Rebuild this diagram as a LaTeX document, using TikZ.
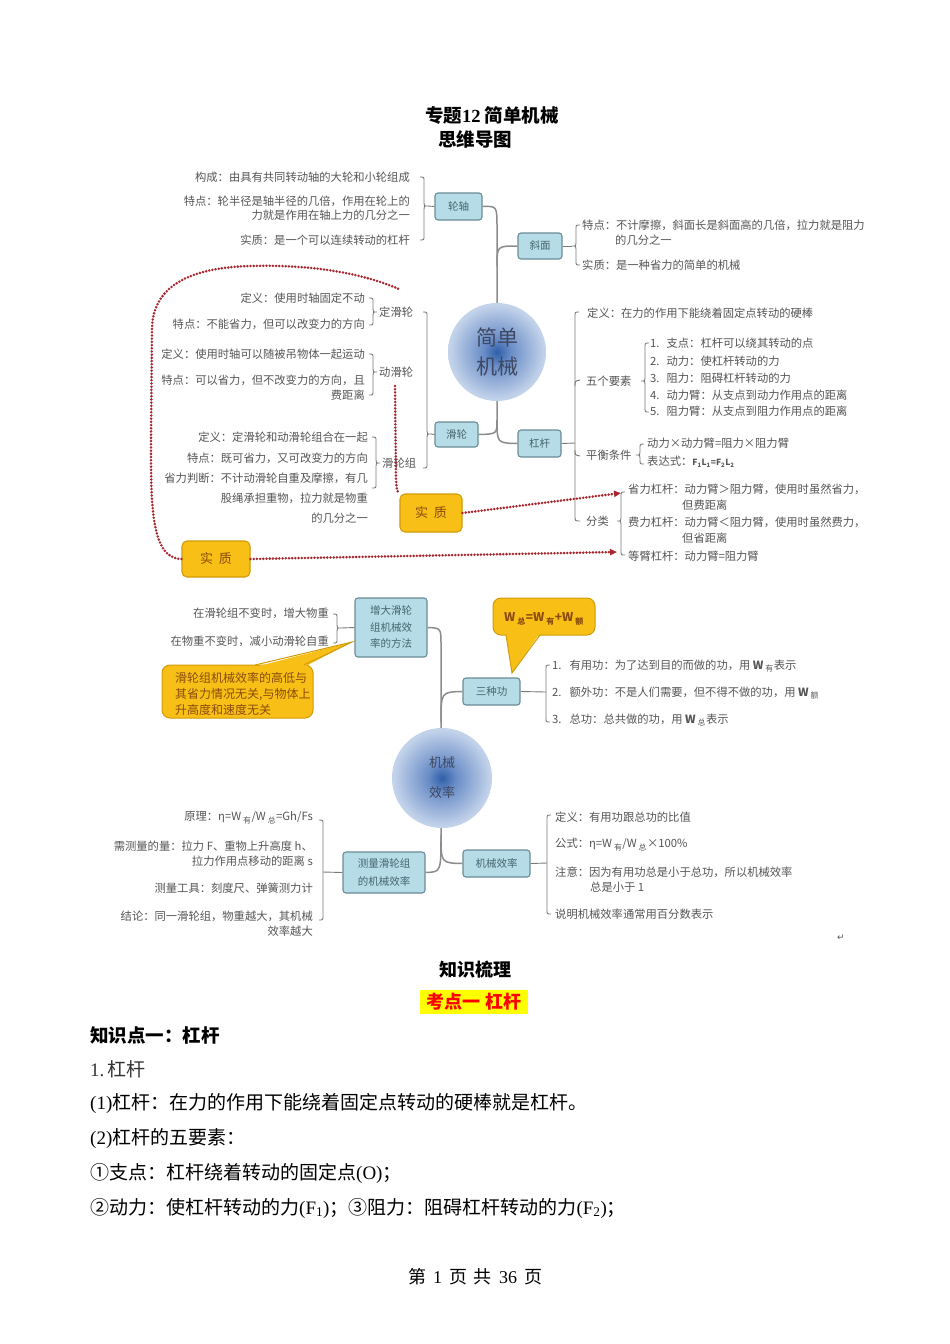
\documentclass[tikz,border=0pt]{standalone}
\usepackage{fontspec}
\setmainfont{Noto Sans CJK SC}
\newfontfamily\lat{Liberation Serif}
\newfontfamily\djv{DejaVu Sans}
\usetikzlibrary{arrows.meta}
\definecolor{txt}{HTML}{555555}
\definecolor{lnc}{HTML}{8C8C8C}
\definecolor{brc}{HTML}{7A7A7A}
\definecolor{bxd}{HTML}{6A8C96}
\definecolor{bxf}{HTML}{B5DCE7}
\definecolor{bxt}{HTML}{46656F}
\definecolor{ybf}{HTML}{F8C016}
\definecolor{ybd}{HTML}{D29A08}
\definecolor{ybt}{HTML}{8A4B0C}
\definecolor{dred}{HTML}{A8262E}
\definecolor{bin}{HTML}{2F5FA8}
\definecolor{bmid}{HTML}{6A8DC7}
\definecolor{bout}{HTML}{C2D2EA}
\definecolor{bedge}{HTML}{E6EDF7}
\definecolor{ctx}{HTML}{3E4862}
\definecolor{hly}{HTML}{FFFF00}
\pgfdeclareradialshading{ballA}{\pgfpoint{0bp}{0bp}}{color(0bp)=(bin); color(7bp)=(bmid); color(24bp)=(bout); color(50bp)=(bedge)}
\newcommand\FS[2]{\fontsize{#1}{#2}\selectfont}
% curly bracket, tip pointing right (text on its left)
\newcommand\BrR[4]{\draw[brk] ({#1-4},#2) .. controls (#1,#2) .. (#1,{#2+4}) -- (#1,{#3-3}) .. controls (#1,#3) .. ({#1+4},#3) .. controls (#1,#3) .. (#1,{#3+3}) -- (#1,{#4-4}) .. controls (#1,#4) .. ({#1-4},#4);}
% curly bracket, tip pointing left (text on its right)
\newcommand\BrL[4]{\draw[brk] ({#1+4},#2) .. controls (#1,#2) .. (#1,{#2+4}) -- (#1,{#3-3}) .. controls (#1,#3) .. ({#1-4},#3) .. controls (#1,#3) .. (#1,{#3+3}) -- (#1,{#4-4}) .. controls (#1,#4) .. ({#1+4},#4);}
% plain brackets
\newcommand\PlR[3]{\draw[brk] ({#1-4},#2) .. controls (#1,#2) .. (#1,{#2+4}) -- (#1,{#3-4}) .. controls (#1,#3) .. ({#1-4},#3);}
\newcommand\PlL[3]{\draw[brk] ({#1+4},#2) .. controls (#1,#2) .. (#1,{#2+4}) -- (#1,{#3-4}) .. controls (#1,#3) .. ({#1+4},#3);}
\tikzset{
 conn/.style={draw=lnc, line width=1.5pt},
 brk/.style={draw=brc, line width=0.9pt},
 bx/.style={draw=bxd, fill=bxf, rounded corners=3pt, line width=1.1pt, inner sep=1pt, font=\FS{10.5}{15}, text=bxt, align=center},
 yb/.style={draw=ybd, fill=ybf, rounded corners=5pt, line width=1.1pt, font=\FS{13}{15}, text=ybt},
 tl/.style={font=\FS{11.3}{14.5}, text=txt, inner sep=0pt, anchor=east, align=right},
 tr/.style={font=\FS{11.3}{14.5}, text=txt, inner sep=0pt, anchor=west, align=left},
 reddots/.style={draw=dred, line width=2.8pt, line cap=round, dash pattern=on 0pt off 3.2pt},
 call/.style={fill=ybf, draw=ybd, line width=1pt},
 body/.style={font=\FS{19}{22}, inner sep=0pt, anchor=west, text=black},
 ball/.style={circle, shading=ballA, text=ctx, align=center},
}
\begin{document}
\begin{tikzpicture}[x=1pt,y=-1pt]
\useasboundingbox (0,0) rectangle (950,1344);
\fill[white] (0,0) rectangle (950,1344);

% ---------- titles ----------
\node[font=\FS{18.5}{22}\bfseries, inner sep=0pt] (title1) at (492,115) {专题{\lat 12} 简单机械};
\node[font=\FS{18.5}{22}\bfseries, inner sep=0pt] (title2) at (475,139) {思维导图};

% ---------- top mind map: boxes ----------
\node[bx, minimum width=47pt, minimum height=27pt] (lz) at (458.5,206.5) {轮轴};
\node[bx, minimum width=44pt, minimum height=26pt] (xm) at (540,246) {斜面};
\node[bx, minimum width=43pt, minimum height=25pt] (hl) at (456.5,434.5) {滑轮};
\node[bx, minimum width=43pt, minimum height=27pt] (gg) at (539.5,443.5) {杠杆};

% trunk
\coordinate (tkA) at (497,228);
\coordinate (tkB) at (497,420);
\coordinate (tkX) at (497,266);
\draw[conn] (lz.east) .. controls (497,206) .. (tkA) -- (tkB);
\draw[conn] (tkX) .. controls (497,246) .. (xm.west);
\draw[conn] (tkB) .. controls (497,434) .. (hl.east);
\draw[conn] (tkB) .. controls (497,443) .. (gg.west);

\node[ball, minimum size=98pt, font=\FS{21}{29}] (c1) at (497,352) {简单\\机械};

% ---------- 轮轴 left ----------
\BrR{424}{177}{206}{240}
\coordinate (bLz) at (428,206);
\draw[brk] (bLz) -- (lz.west);
\node[tl] (a1) at (410,177) {构成：由具有共同转动轴的大轮和小轮组成};
\node[tl] (a2) at (410,208) {特点：轮半径是轴半径的几倍，作用在轮上的\\力就是作用在轴上力的几分之一};
\node[tl] (a3) at (410,240) {实质：是一个可以连续转动的杠杆};

% ---------- 滑轮 left ----------
\BrR{427}{312}{434}{468}
\coordinate (bHl) at (431,434);
\draw[brk] (bHl) -- (hl.west);
\node[tr] (dhl) at (379,312) {定滑轮};
\node[tr] (dyl) at (379,372) {动滑轮};
\node[tr] (hlz) at (382,463) {滑轮组};
\BrR{373}{298}{312}{325}
\BrR{373}{354}{372}{395}
\BrR{376}{437}{463}{488}
\node[tl] (b1) at (365,298) {定义：使用时轴固定不动};
\node[tl] (b2) at (365,324) {特点：不能省力，但可以改变力的方向};
\node[tl] (b3) at (365,354) {定义：使用时轴可以随被吊物体一起运动};
\node[tl] (b4) at (365,387.5) {特点：可以省力，但不改变力的方向，且\\费距离};
\node[tl] (b5) at (368,437) {定义：定滑轮和动滑轮组合在一起};
\node[tl] (b6) at (368,458) {特点：既可省力，又可改变力的方向};
\node[tl, font=\FS{11.3}{20}] (b7) at (368,498) {省力判断：不计动滑轮自重及摩擦，有几\\股绳承担重物，拉力就是物重\\的几分之一};

% ---------- 斜面 right ----------
\BrL{576}{225}{246}{265}
\coordinate (bXm) at (572,246);
\draw[brk] (xm.east) -- (bXm);
\node[tr] (c1a) at (582,225) {特点：不计摩擦，斜面长是斜面高的几倍，拉力就是阻力};
\node[tr] (c1b) at (615,240) {的几分之一};
\node[tr] (c1c) at (582,265) {实质：是一种省力的简单的机械};

% ---------- 杠杆 right ----------
\draw[brk] (579,312) .. controls (575,312) .. (575,316) -- (575,516) .. controls (575,521) .. (580,521);
\draw[brk] (575,386) .. controls (575,381) .. (580,380);
\draw[brk] (575,450) .. controls (575,455) .. (580,456);
\coordinate (bGg) at (575,443);
\draw[brk] (gg.east) -- (bGg);
\node[tr] (d0) at (587,313) {定义：在力的作用下能绕着固定点转动的硬棒};
\node[tr] (d1) at (586,381) {五个要素};
\BrL{645}{343}{381}{412}
\node[tr] (d11) at (650,343) {1.\hspace{7pt}支点：杠杆可以绕其转动的点};
\node[tr] (d12) at (650,361) {2.\hspace{7pt}动力：使杠杆转动的力};
\node[tr] (d13) at (650,378) {3.\hspace{7pt}阻力：阻碍杠杆转动的力};
\node[tr] (d14) at (650,395) {4.\hspace{7pt}动力臂：从支点到动力作用点的距离};
\node[tr] (d15) at (650,411) {5.\hspace{7pt}阻力臂：从支点到阻力作用点的距离};
\node[tr] (d2) at (586,455) {平衡条件};
\BrL{640}{444}{455}{464}
\node[tr] (d21) at (647,443) {动力×动力臂=阻力×阻力臂};
\node[tr] (d22) at (647,462) {表达式：{\FS{8.5}{10}\bfseries F\textsubscript{1}L\textsubscript{1}=F\textsubscript{2}L\textsubscript{2}}};
\node[tr] (d3) at (586,521) {分类};
\BrL{621}{492}{521}{555}
\node[tr] (d31) at (628,489) {省力杠杆：动力臂＞阻力臂，使用时虽然省力，};
\node[tr] (d32) at (682,505) {但费距离};
\node[tr] (d33) at (628,522) {费力杠杆：动力臂＜阻力臂，使用时虽然费力，};
\node[tr] (d34) at (682,538) {但省距离};
\node[tr] (d35) at (628,556) {等臂杠杆：动力臂=阻力臂};

% ---------- 实质 boxes and dotted links ----------
\node[yb, minimum width=62pt, minimum height=38pt] (sz1) at (431,513) {实\hspace{6pt}质};
\node[yb, minimum width=68pt, minimum height=36pt] (sz2) at (216,559) {实\hspace{6pt}质};
\coordinate (pA) at (621,493);
\coordinate (pB) at (617,552);
\coordinate (pC) at (395,386);
\coordinate (pD) at (401,290);
\draw[reddots, -{Triangle[length=7pt,width=6pt]}] (sz1.east) -- (pA);
\draw[reddots, -{Triangle[length=7pt,width=6pt]}] (sz2.east) -- (pB);
\draw[reddots] (pC) -- (396,480) .. controls (397,492) .. (sz1.north west);
\draw[reddots] (sz2.west) .. controls (150,559) and (151,500) .. (151,440) -- (152,330) .. controls (152,292) and (180,268) .. (250,266) .. controls (320,264) and (370,276) .. (pD);

% ---------- bottom mind map ----------
\node[bx, minimum width=72pt, minimum height=59pt, font=\FS{10.5}{16.5}] (zd) at (391,627.5) {增大滑轮\\组机械效\\率的方法};
\node[bx, minimum width=57pt, minimum height=27pt] (szg) at (491.5,691.5) {三种功};
\node[bx, minimum width=82pt, minimum height=41pt, font=\FS{10.5}{18}] (cl) at (384,872.5) {测量滑轮组\\的机械效率};
\node[bx, minimum width=67pt, minimum height=27pt] (jx) at (496.5,863.5) {机械效率};

\coordinate (tkC) at (441,645);
\coordinate (tkD) at (441,835);
\coordinate (tkE) at (441,722);
\draw[conn] (zd.east) .. controls (441,628) .. (tkC) -- (tkD);
\draw[conn] (tkE) .. controls (441,692) .. (szg.west);
\draw[conn] (tkD) .. controls (441,872) .. (cl.east);
\draw[conn] (tkD) .. controls (441,863) .. (jx.west);

\node[ball, minimum size=100pt, font=\FS{13}{30}] (c2) at (442,778) {机械\\效率};

% 增大 left
\BrR{337}{614}{628}{643}
\coordinate (bZd) at (341,628);
\draw[brk] (bZd) -- (zd.west);
\node[tl] (e1) at (329,613) {在滑轮组不变时，增大物重};
\node[tl] (e2) at (329,641) {在物重不变时，减小动滑轮自重};

% left callout
\draw[call, rounded corners=8pt] (162,665) rectangle (313,718);
\fill[ybf] (255,667) -- (352,642) -- (304,667) -- cycle;
\coordinate (ctip1) at (352,642);
\draw[draw=ybd, line width=1pt] (255,665) -- (ctip1) -- (304,665);
\node[tr, text=ybt, font=\FS{12}{16}] (cb) at (175,694) {滑轮组机械效率的高低与\\其省力情况无关,与物体上\\升高度和速度无关};

% W callout
\draw[call, rounded corners=8pt] (493,598) rectangle (595,635);
\fill[ybf] (506,633) -- (512,673) -- (540,633) -- cycle;
\coordinate (ctip2) at (512,673);
\draw[draw=ybd, line width=1pt] (506,635) -- (ctip2) -- (540,635);
\node[font=\FS{12}{14}\bfseries, text=ybt, inner sep=0pt] (wf) at (544,619) {W\,\textsubscript{总}=W\,\textsubscript{有}+W\,\textsubscript{额}};

% 三种功 right
\PlL{546}{665}{722}
\coordinate (bSz) at (546,692);
\draw[brk] (szg.east) -- (bSz);
\node[tr] (f1) at (552,666) {1.\hspace{8pt}有用功：为了达到目的而做的功，用 {\bfseries W}\,\textsubscript{有}表示};
\node[tr] (f2) at (552,693) {2.\hspace{8pt}额外功：不是人们需要，但不得不做的功，用 {\bfseries W}\,\textsubscript{额}};
\node[tr] (f3) at (552,720) {3.\hspace{8pt}总功：总共做的功，用 {\bfseries W}\,\textsubscript{总}表示};

% 测量 left
\PlR{323}{820}{920}
\coordinate (bCl) at (323,872);
\draw[brk] (bCl) -- (cl.west);
\node[tl] (g1) at (313,818) {原理：η=W\,\textsubscript{有}/W\,\textsubscript{总}=Gh/Fs};
\node[tl] (g2) at (313,853.5) {需测量的量：拉力 F、重物上升高度 h、\\拉力作用点移动的距离 s};
\node[tl] (g3) at (313,888) {测量工具：刻度尺、弹簧测力计};
\node[tl] (g4) at (313,923.5) {结论：同一滑轮组，物重越大，其机械\\效率越大};

% 机械效率 right
\PlL{547}{815}{914}
\coordinate (bJx) at (547,863);
\draw[brk] (jx.east) -- (bJx);
\node[tr] (h1) at (555,817) {定义：有用功跟总功的比值};
\node[tr] (h2) at (555,845) {公式：η=W\,\textsubscript{有}/W\,\textsubscript{总}×100\%};
\node[tr] (h3) at (555,872) {注意：因为有用功总是小于总功，所以机械效率};
\node[tr] (h4) at (590,887) {总是小于 1};
\node[tr] (h5) at (555,914) {说明机械效率通常用百分数表示};
\node[font=\djv\FS{9}{11}, text=txt, inner sep=0pt] (ret) at (841,938) {↵};

% ---------- text below ----------
\node[font=\FS{18}{22}\bfseries, inner sep=0pt] (k0) at (475,970) {知识梳理};
\fill[hly] (420,990) rectangle (528,1014);
\node[font=\FS{18}{22}\bfseries, text=red, inner sep=0pt] (k1) at (474,1002) {考点一\hspace{5pt}杠杆};
\node[body, font=\FS{18.5}{22}\bfseries] (k2) at (90,1035) {知识点一：杠杆};
\node[body, text=black!80] (k3) at (90,1069) {{\lat 1.}\hspace{3pt}杠杆};
\node[body] (k4) at (90,1103) {{\lat (1)}杠杆：在力的作用下能绕着固定点转动的硬棒就是杠杆。};
\node[body] (k5) at (90,1138) {{\lat (2)}杠杆的五要素：};
\node[body] (k6) at (90,1173) {①支点：杠杆绕着转动的固定点{\lat (O)}；};
\node[body] (k7) at (90,1208) {②动力：使杠杆转动的力{\lat (F\textsubscript{1})}；③阻力：阻碍杠杆转动的力{\lat (F\textsubscript{2})}；};
\node[font=\FS{18}{22}, inner sep=0pt] (pg) at (475,1277) {第\hspace{7pt}{\lat 1}\hspace{7pt}页\hspace{7pt}共\hspace{7pt}{\lat 36}\hspace{7pt}页};
\end{tikzpicture}
\end{document}
